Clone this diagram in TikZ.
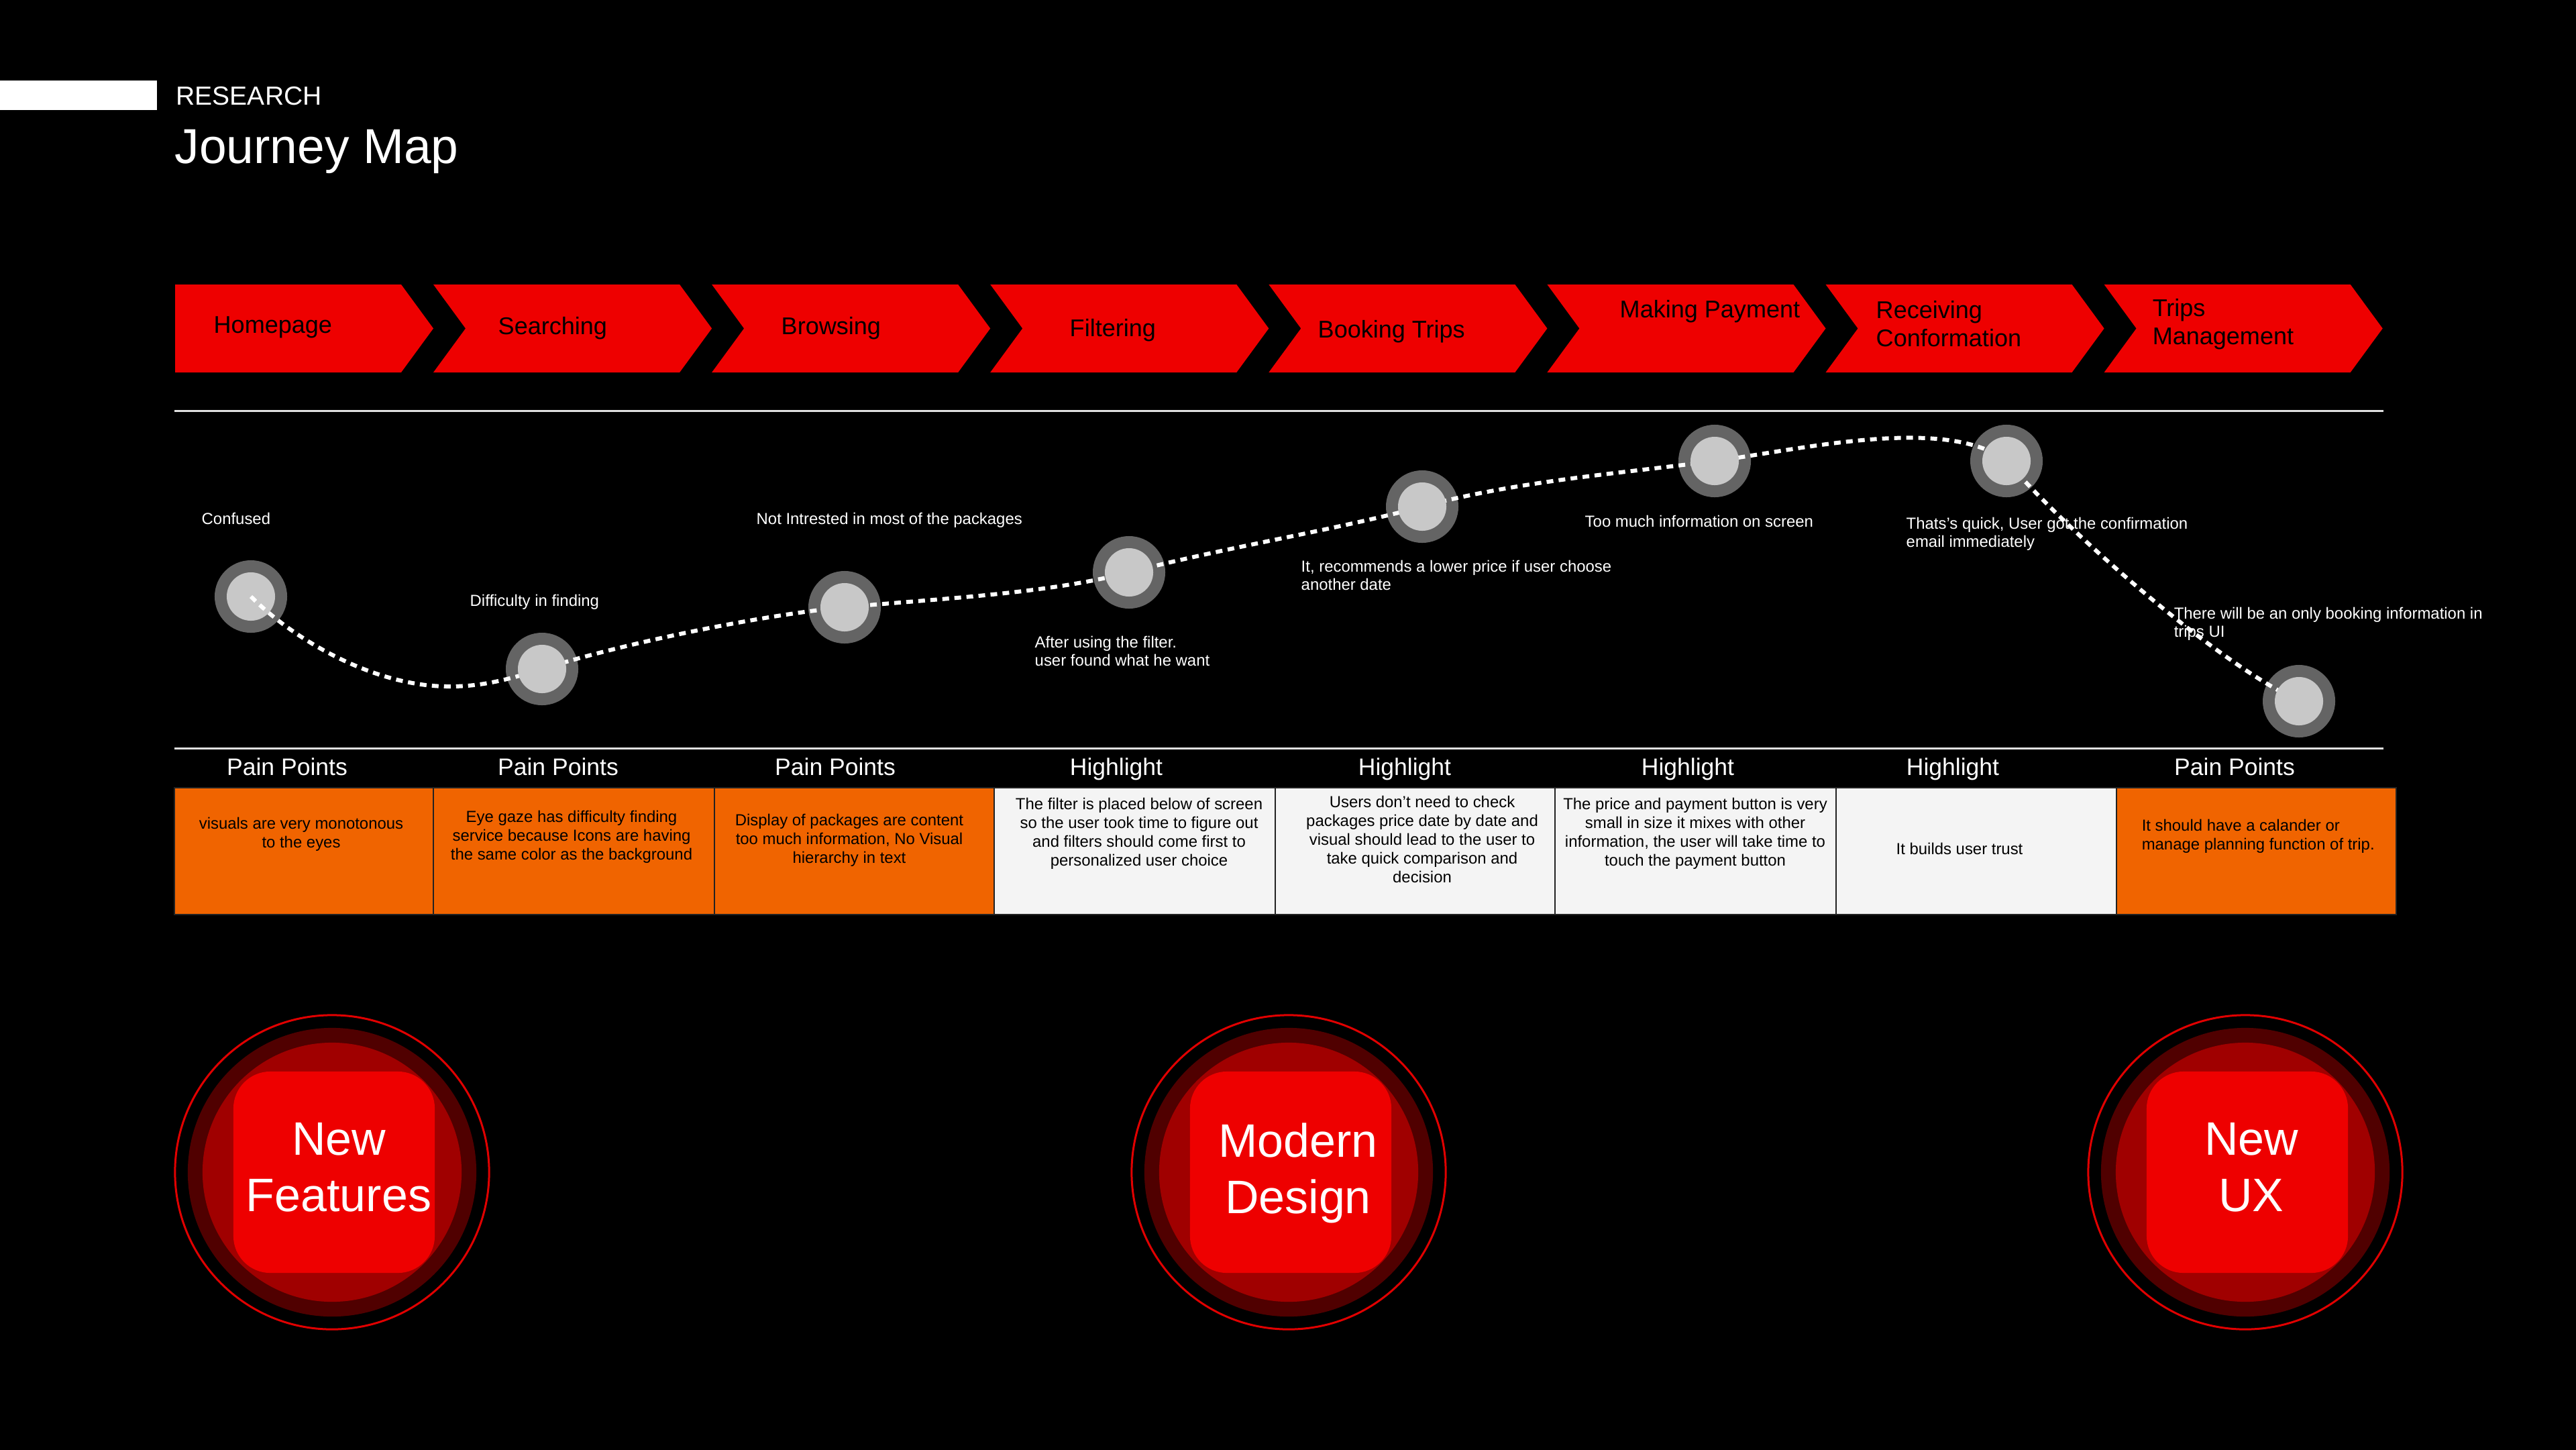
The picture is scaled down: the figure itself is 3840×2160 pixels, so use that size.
\documentclass[tikz,border=0pt]{standalone}
\usepackage{fontspec}
\setmainfont{Liberation Sans}
\definecolor{chev}{HTML}{EE0000}
\definecolor{painor}{HTML}{F06400}
\definecolor{hlgray}{HTML}{F4F4F4}
\definecolor{ringgray}{HTML}{646464}
\definecolor{dotgray}{HTML}{C8C8C8}
\definecolor{btndark}{HTML}{500000}
\definecolor{btnmid}{HTML}{A00000}
\definecolor{btnline}{HTML}{E00000}
\definecolor{rulegray}{HTML}{E0E0E0}
\definecolor{cellline}{HTML}{222222}
\begin{document}
\begin{tikzpicture}[x=0.01cm,y=-0.01cm,
  chevlabel/.style={font=\fontsize{10.25pt}{11.95pt}\selectfont, text=black, inner sep=0pt, align=left},
  hdr/.style={font=\fontsize{10.1pt}{12pt}\selectfont, text=white, inner sep=0pt, anchor=base},
  celltext/.style={font=\fontsize{6.8pt}{7.97pt}\selectfont, text=black, inner sep=0pt, align=center, anchor=north},
  emo/.style={font=\fontsize{6.8pt}{7.82pt}\selectfont, text=white, inner sep=0pt, align=left, anchor=north west},
  emoring/.style={circle, fill=ringgray, minimum size=1.08cm, inner sep=0pt},
  emodot/.style={circle, fill=dotgray, minimum size=0.72cm, inner sep=0pt},
  journey/.style={draw=white, line width=0.06cm, dash pattern=on 0.1cm off 0.08cm},
  rulel/.style={draw=rulegray, line width=0.03cm},
  cellbox/.style={draw=cellline, line width=0.015cm},
  btnouter/.style={circle, draw=btnline, line width=0.03cm, minimum size=4.68cm, inner sep=0pt},
  btnring/.style={circle, fill=btndark, minimum size=4.30cm, inner sep=0pt},
  btnmidc/.style={circle, fill=btnmid, minimum size=3.86cm, inner sep=0pt},
  btnsq/.style={rectangle, rounded corners=0.55cm, fill=chev, minimum size=3cm, inner sep=0pt},
  btntext/.style={font=\fontsize{19.9pt}{23.9pt}\selectfont, text=white, align=center, inner sep=0pt, anchor=north}
]
\useasboundingbox (0,0) rectangle (3840,2160);
\fill[black] (-20,-20) rectangle (3860,2180);

% title
\fill[white] (0,120) rectangle (234,164);
\node[font=\fontsize{11.1pt}{13pt}\selectfont, text=white, inner sep=0pt, anchor=base west] (research) at (262,156) {RESEARCH};
\node[font=\fontsize{20.8pt}{24pt}\selectfont, text=white, inner sep=0pt, anchor=base west] (title) at (260,243) {Journey Map};

% chevrons
\fill[chev] (261,424) -- (598,424) -- (646,489.5) -- (598,555) -- (261,555) -- cycle;
\foreach \k in {1,...,7} {
  \pgfmathsetmacro\R{598+415.1*\k}
  \fill[chev] (\R-367.1,424) -- (\R,424) -- (\R+48,489.5) -- (\R,555) -- (\R-367.1,555) -- (\R-319.1,489.5) -- cycle;
}
\node[chevlabel, anchor=base west] (lhome) at (318,496) {Homepage};
\node[chevlabel, anchor=base west] (lsearch) at (742,498) {Searching};
\node[chevlabel, anchor=base west] (lbrowse) at (1164,498) {Browsing};
\node[chevlabel, anchor=base west] (lfilter) at (1594,501) {Filtering};
\node[chevlabel, anchor=base west] (lbook) at (1964,503) {Booking Trips};
\node[chevlabel, anchor=base west] (lpay) at (2414,473) {Making Payment};
\node[chevlabel, anchor=north west] (lrecv) at (2796,448) {Receiving\\Conformation};
\node[chevlabel, anchor=north west] (ltrips) at (3208,445) {Trips\\Management};

% rules
\draw[rulel] (260,612) -- (3553,612);
\draw[rulel] (260,1115) -- (3553,1115);

% emotion circles
\node[emoring] (e1) at (374,889) {};
\node[emoring] (e2) at (808,997) {};
\node[emoring] (e3) at (1259,905) {};
\node[emoring] (e4) at (1683,853) {};
\node[emoring] (e5) at (2120,755) {};
\node[emoring] (e6) at (2556,687) {};
\node[emoring] (e7) at (2991,687) {};
\node[emoring] (e8) at (3427,1045) {};
\node[emodot] (i1) at (e1) {};
\coordinate (trough) at (671,1023);
\draw[journey] (e1.center) .. controls (440,955) and (560,1024) .. (trough)
  .. controls (720,1023) and (760,1012) .. (e2.center)
  .. controls (950,953) and (1150,915) .. (e3.center)
  .. controls (1400,892) and (1560,885) .. (e4.center)
  .. controls (1830,815) and (1990,790) .. (e5.center)
  .. controls (2260,717) and (2420,705) .. (e6.center)
  .. controls (2680,671) and (2900,618) .. (e7.center)
  .. controls (3080,790) and (3300,985) .. (e8.center);
\node[emodot] (i2) at (e2) {};
\node[emodot] (i3) at (e3) {};
\node[emodot] (i4) at (e4) {};
\node[emodot] (i5) at (e5) {};
\node[emodot] (i6) at (e6) {};
\node[emodot] (i7) at (e7) {};
\node[emodot] (i8) at (e8) {};

% emotion labels
\node[emo] (t1) at (300,763) {Confused};
\node[emo] (t2) at (700,885) {Difficulty in finding};
\node[emo] (t3) at (1127,763) {Not Intrested in most of the packages};
\node[emo] (t4) at (1542,947) {After using the filter.\\user found what he want};
\node[emo] (t5) at (1939,834) {It, recommends a lower price if user choose\\another date};
\node[emo] (t6) at (2362,767) {Too much information on screen};
\node[emo] (t7) at (2841,770) {Thats's quick, User got the confirmation\\email immediately};
\node[emo] (t8) at (3240,904) {There will be an only booking information in\\trips UI};

% headers
\node[hdr] (h1) at (428,1155) {Pain Points};
\node[hdr] (h2) at (832,1155) {Pain Points};
\node[hdr] (h3) at (1245,1155) {Pain Points};
\node[hdr] (h4) at (1664,1155) {Highlight};
\node[hdr] (h5) at (2094,1155) {Highlight};
\node[hdr] (h6) at (2516,1155) {Highlight};
\node[hdr] (h7) at (2911,1155) {Highlight};
\node[hdr] (h8) at (3331,1155) {Pain Points};

% cells
\filldraw[cellbox, fill=painor] (260,1174) rectangle (646,1363);
\filldraw[cellbox, fill=painor] (646,1174) rectangle (1065,1363);
\filldraw[cellbox, fill=painor] (1065,1174) rectangle (1482,1363);
\filldraw[cellbox, fill=hlgray] (1482,1174) rectangle (1901,1363);
\filldraw[cellbox, fill=hlgray] (1901,1174) rectangle (2318,1363);
\filldraw[cellbox, fill=hlgray] (2318,1174) rectangle (2737,1363);
\filldraw[cellbox, fill=hlgray] (2737,1174) rectangle (3155,1363);
\filldraw[cellbox, fill=painor] (3155,1174) rectangle (3572,1363);

\node[celltext] (c1) at (449,1217) {visuals are very monotonous\\to the eyes};
\node[celltext] (c2) at (852,1207) {Eye gaze has difficulty finding\\service because Icons are having\\the same color as the background};
\node[celltext] (c3) at (1266,1212) {Display of packages are content\\too much information, No Visual\\hierarchy in text};
\node[celltext] (c4) at (1698,1188) {The filter is placed below of screen\\so the user took time to figure out\\and filters should come first to\\personalized user choice};
\node[celltext] (c5) at (2120,1185) {Users don't need to check\\packages price date by date and\\visual should lead to the user to\\take quick comparison and\\decision};
\node[celltext] (c6) at (2527,1188) {The price and payment button is very\\small in size it mixes with other\\information, the user will take time to\\touch the payment button};
\node[celltext] (c7) at (2921,1255) {It builds user trust};
\node[celltext, align=left, anchor=north west] (c8) at (3192,1220) {It should have a calander or\\manage planning function of trip.};

% buttons
\node[btnouter] (b1o) at (495,1747) {};
\node[btnring] (b1r) at (b1o) {};
\node[btnmidc] (b1m) at (b1o) {};
\node[btnsq] (b1s) at (498,1747) {};
\node[btntext] (b1t) at (505,1673) {New\\Features};

\node[btnouter] (b2o) at (1921,1747) {};
\node[btnring] (b2r) at (b2o) {};
\node[btnmidc] (b2m) at (b2o) {};
\node[btnsq] (b2s) at (1924,1747) {};
\node[btntext] (b2t) at (1935,1673) {Modern\\Design};

\node[btnouter] (b3o) at (3347,1747) {};
\node[btnring] (b3r) at (b3o) {};
\node[btnmidc] (b3m) at (b3o) {};
\node[btnsq] (b3s) at (3350,1747) {};
\node[btntext] (b3t) at (3356,1673) {New\\UX};
\end{tikzpicture}
\end{document}
